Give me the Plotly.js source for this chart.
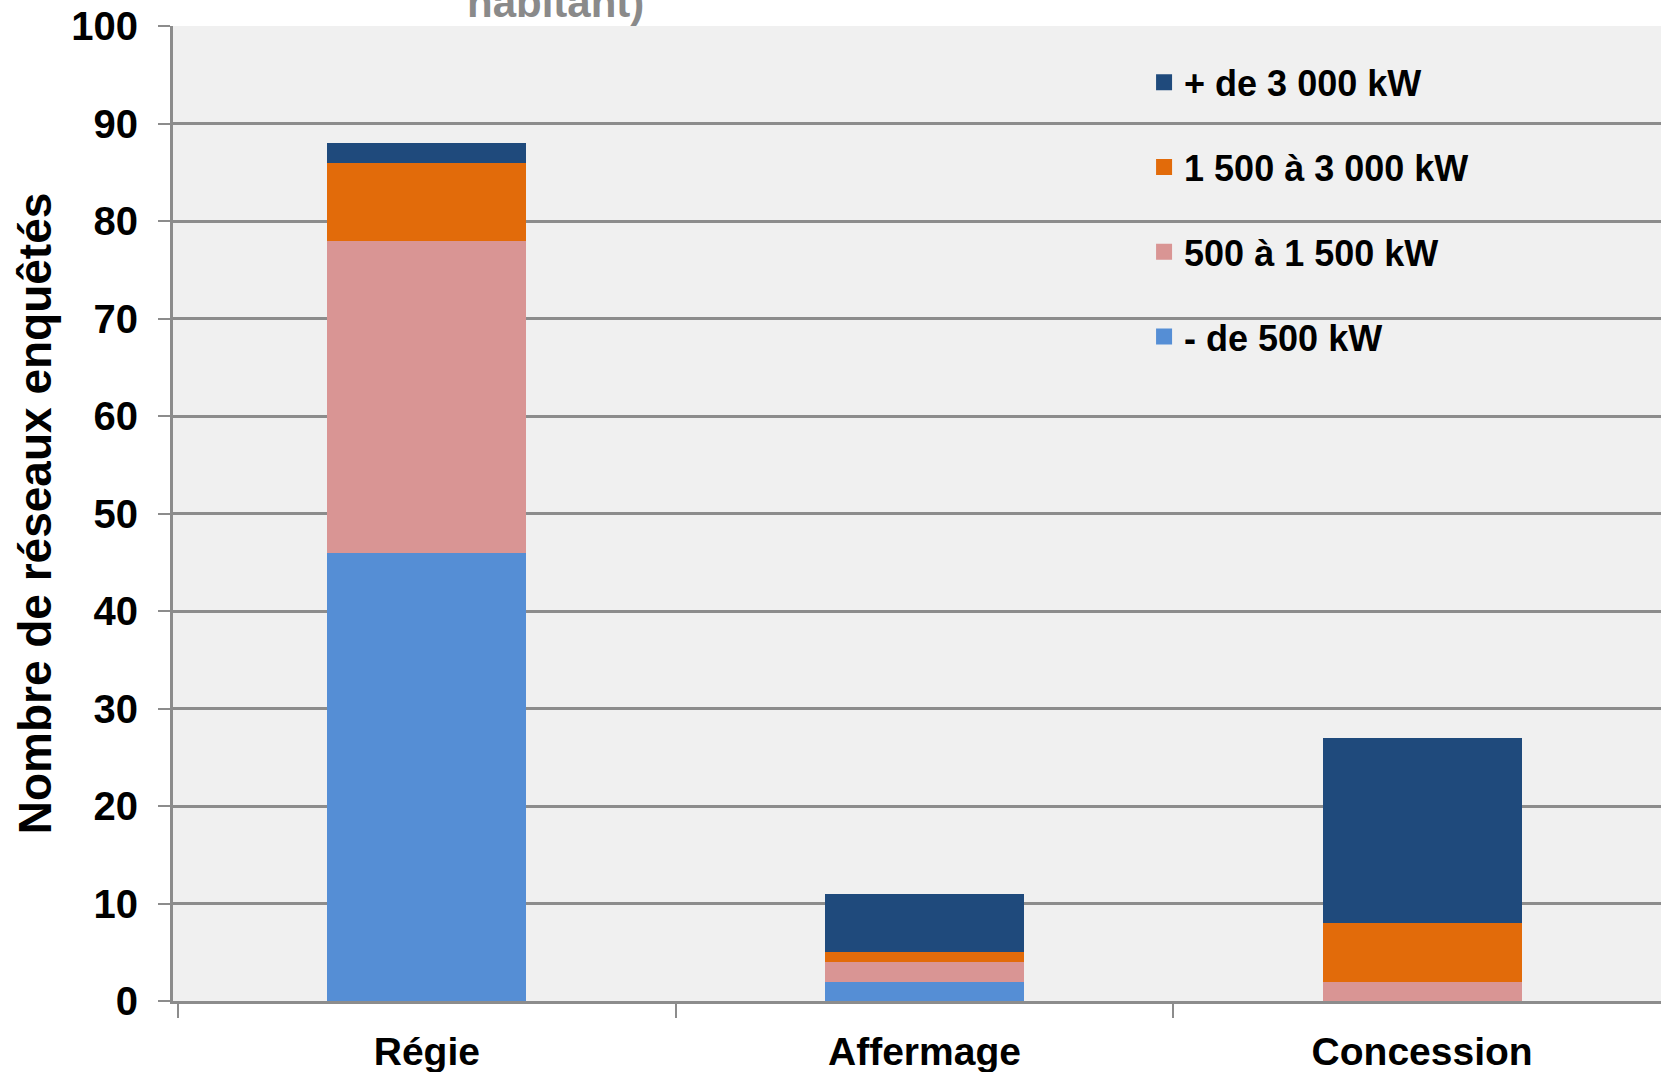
<!DOCTYPE html>
<html>
<head>
<meta charset="utf-8">
<script src="https://cdn.plot.ly/plotly-3.0.1.min.js"></script>
<style>html,body{margin:0;padding:0;background:#fff;}#chart{width:1661px;height:1072px;}</style>
</head>
<body>
<div id="chart"></div>
<script>
const categories = ["Régie", "Affermage", "Concession"];
const seriesNames = ["- de 500 kW", "500 à 1 500 kW", "1 500 à 3 000 kW", "+ de 3 000 kW"];
const lessThan500 = [46, 2, 0];
const from500to1500 = [32, 2, 2];
const from1500to3000 = [8, 1, 6];
const moreThan3000 = [2, 6, 19];
const yTicks = [0, 10, 20, 30, 40, 50, 60, 70, 80, 90, 100];

const colors = ["#558ED5", "#D99594", "#E26B0A", "#1F4A7C"];
const values = [lessThan500, from500to1500, from1500to3000, moreThan3000];

const font = "Liberation Sans, Arial, sans-serif";

const barTraces = values.map((v, i) => ({
  type: "bar",
  name: seriesNames[i],
  x: categories,
  y: v,
  width: 0.4,
  showlegend: false,
  legendgroup: "g" + i,
  marker: { color: colors[i], line: { width: 0 } },
  hoverinfo: "x+y+name"
}));

// legend-only entries (square swatches like the original)
const legendTraces = values.map((v, i) => ({
  type: "scatter",
  mode: "markers",
  name: seriesNames[i],
  x: [null],
  y: [null],
  legendgroup: "g" + i,
  legendrank: 10 - i,
  showlegend: true,
  marker: { symbol: "square", size: 20, color: colors[i] }
}));

const layout = {
  width: 1661,
  height: 1072,
  barmode: "stack",
  paper_bgcolor: "#ffffff",
  plot_bgcolor: "#f0f0f0",
  margin: { l: 173, r: 0, t: 26, b: 71, pad: 0 },
  font: { family: font, size: 30, color: "#000" },
  showlegend: true,
  legend: {
    x: 0.6526, y: 0.973, xanchor: "left", yanchor: "top",
    bgcolor: "rgba(0,0,0,0)",
    traceorder: "grouped",
    tracegroupgap: 35,
    itemwidth: 30,
    font: { family: font, size: 36, color: "#000", weight: "bold" }
  },
  xaxis: {
    type: "category",
    range: [-0.51, 2.48],
    tickson: "boundaries",
    ticks: "outside",
    ticklen: 14,
    tickwidth: 2,
    tickcolor: "#8c8c8c",
    showline: true,
    linecolor: "#8c8c8c",
    linewidth: 3,
    showgrid: false,
    ticklabelstandoff: 14,
    tickfont: { family: font, size: 39, color: "#000", weight: "bold" },
    fixedrange: true
  },
  yaxis: {
    range: [0, 100],
    tickvals: yTicks,
    ticktext: yTicks.map(String),
    ticks: "outside",
    ticklen: 12,
    tickwidth: 2,
    tickcolor: "#8c8c8c",
    showline: true,
    linecolor: "#8c8c8c",
    linewidth: 3,
    showgrid: true,
    gridcolor: "#8c8c8c",
    gridwidth: 3,
    zeroline: false,
    ticklabelstandoff: 12,
    tickfont: { family: font, size: 40, color: "#000", weight: "bold" },
    title: { text: "Nombre de réseaux enquêtés", standoff: 6, font: { family: font, size: 46, color: "#000", weight: "bold" } },
    fixedrange: true
  },
  annotations: [{
    xref: "paper", yref: "paper",
    x: 0.257, y: 0.998, xanchor: "center", yanchor: "bottom",
    text: "habitant)", showarrow: false,
    font: { family: font, size: 42, color: "#8a8a8a", weight: "bold" }
  }]
};

Plotly.newPlot("chart", barTraces.concat(legendTraces), layout, { displayModeBar: false, staticPlot: true });
</script>
</body>
</html>
